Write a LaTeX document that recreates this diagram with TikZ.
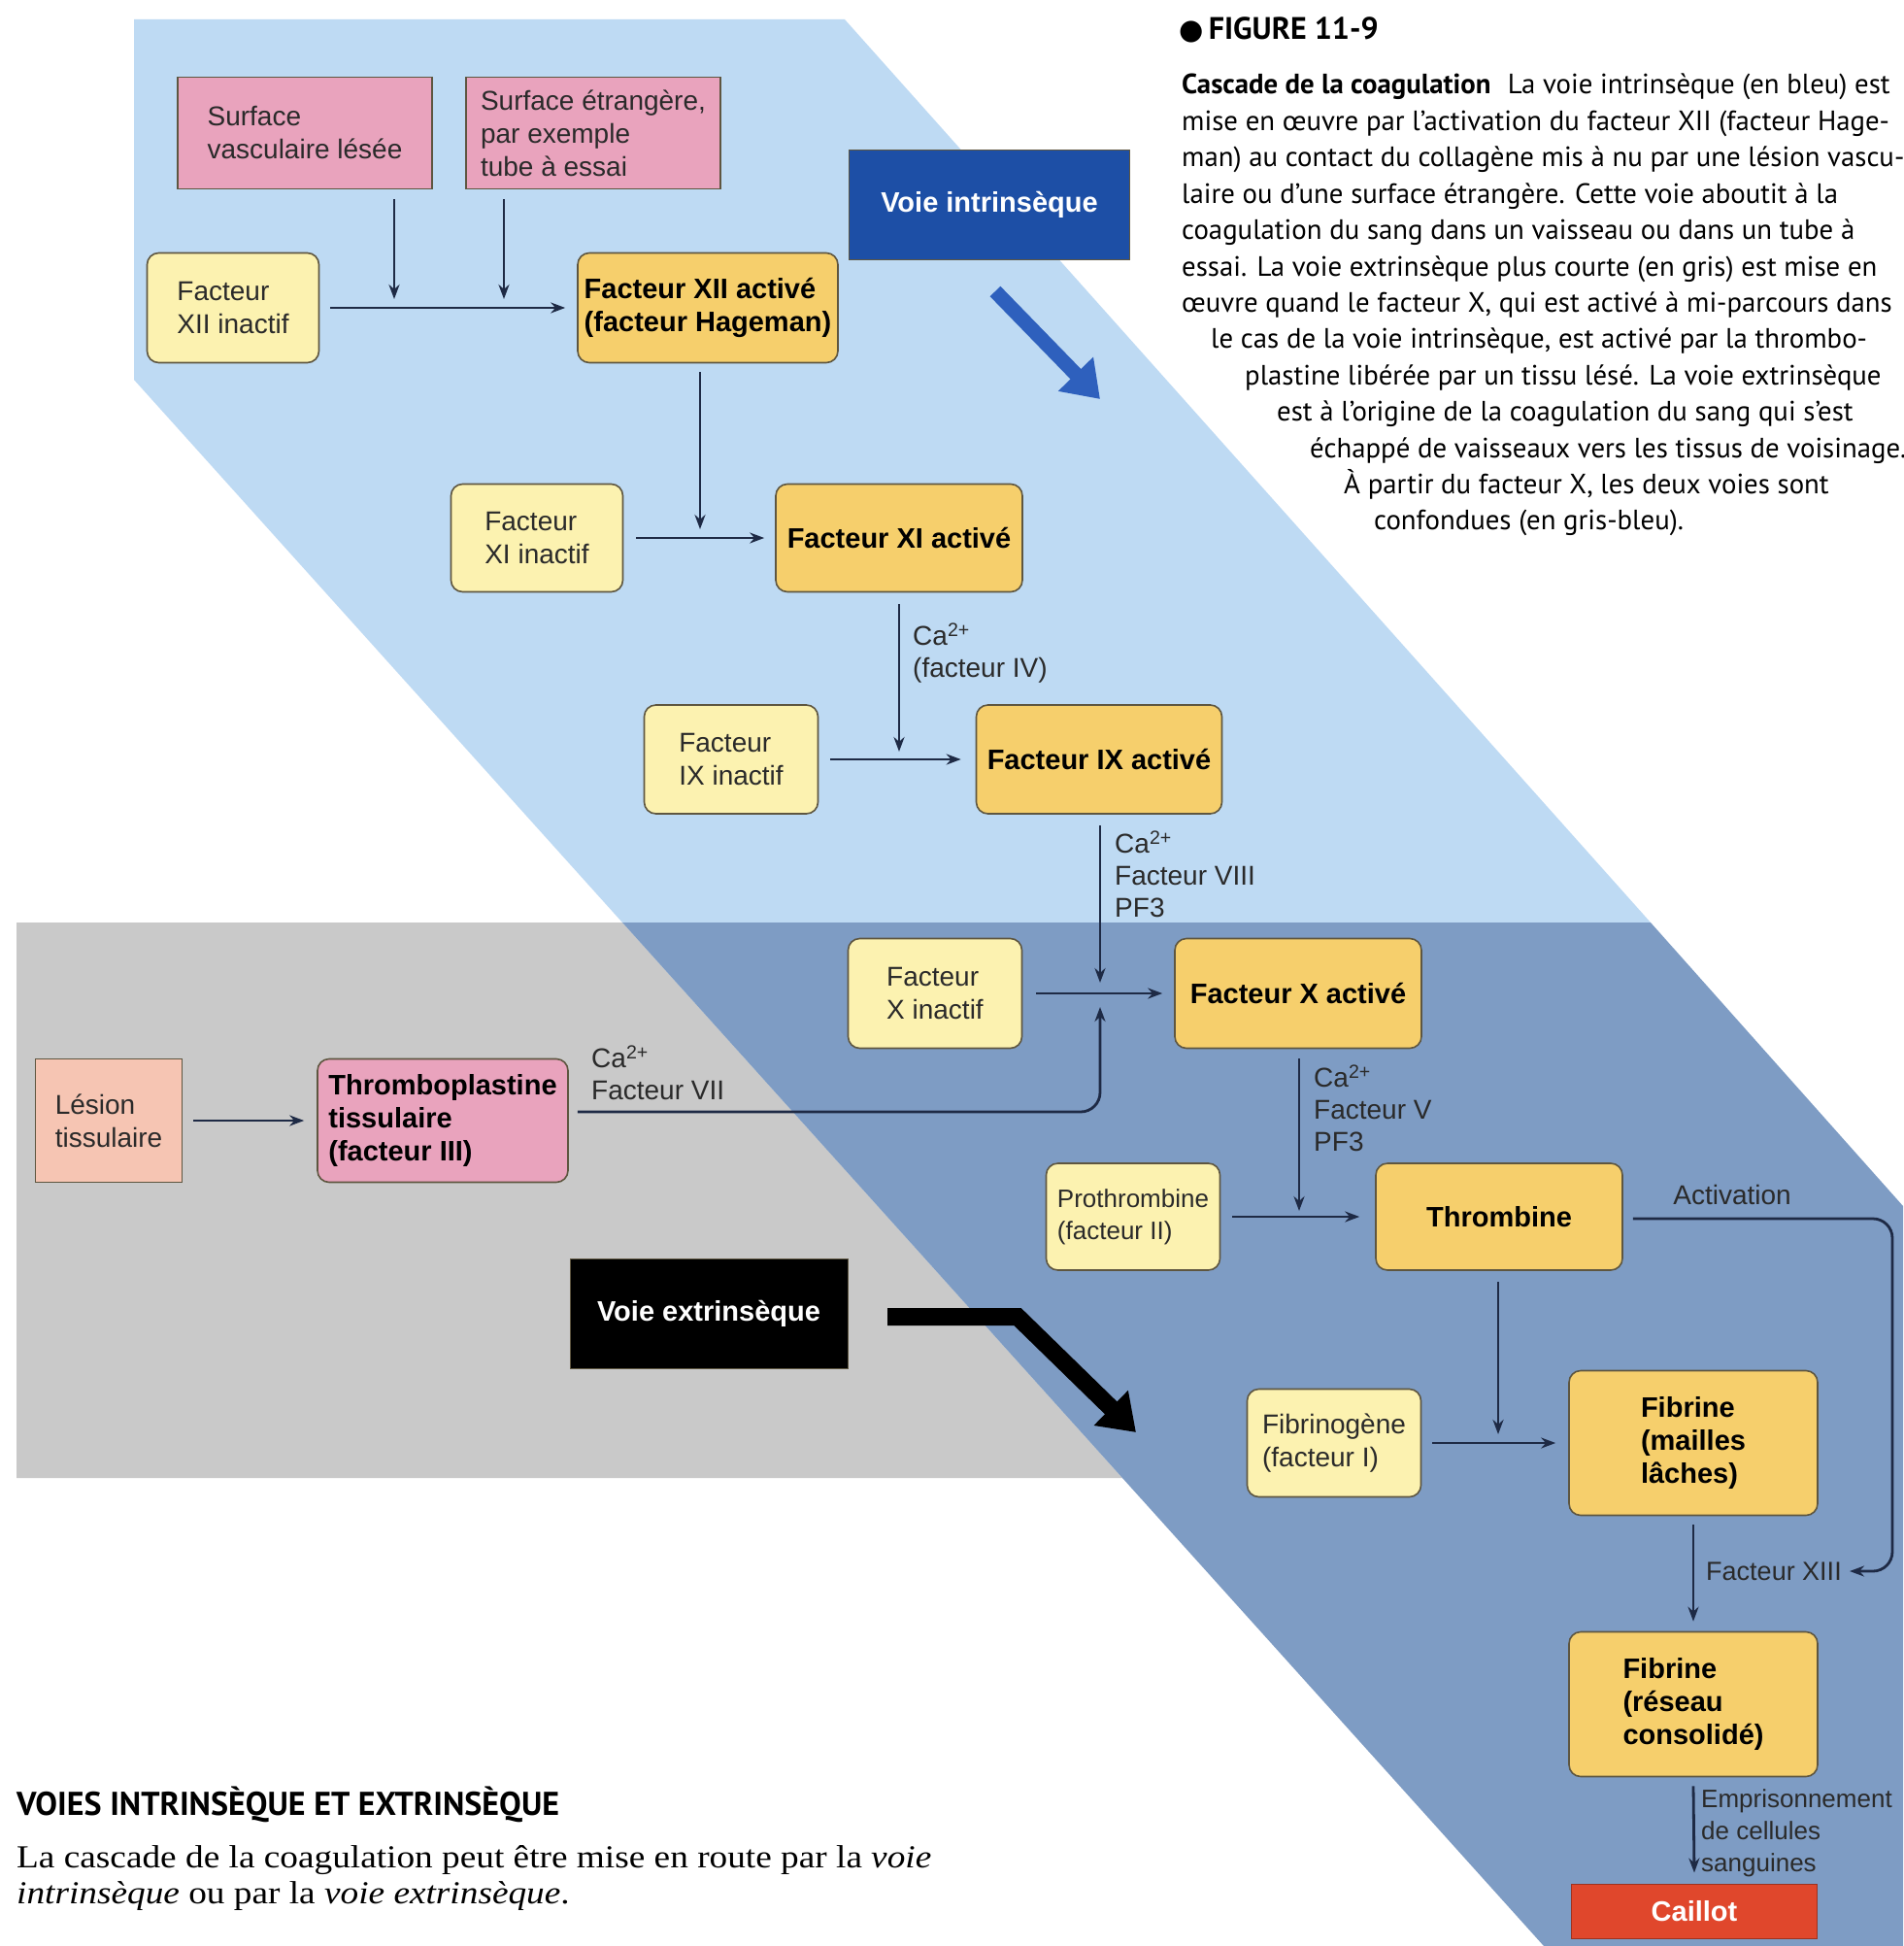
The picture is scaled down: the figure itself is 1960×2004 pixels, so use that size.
\documentclass[tikz,border=0pt]{standalone}
\usepackage{fontspec}
\setmainfont{Liberation Sans}
\newfontfamily\capfont{PT Sans}
\newfontfamily\bodyserif{Liberation Serif}
\newfontfamily\symfont{DejaVu Sans}
\usetikzlibrary{arrows.meta}
\definecolor{bandblue}{HTML}{BEDAF3}
\definecolor{bandgray}{HTML}{C9C9C9}
\definecolor{bandgb}{HTML}{7E9CC4}
\definecolor{inactc}{HTML}{FCF2B0}
\definecolor{actc}{HTML}{F6CF6C}
\definecolor{pinkc}{HTML}{E9A3BD}
\definecolor{lesc}{HTML}{F6C5B3}
\definecolor{boxline}{HTML}{5E5640}
\definecolor{arrc}{HTML}{1E2A45}
\definecolor{vintc}{HTML}{1D4FA6}
\definecolor{blarr}{HTML}{2E60BD}
\definecolor{caillotc}{HTML}{E0472C}
\definecolor{txtc}{HTML}{2A2A2A}
\begin{document}
\begin{tikzpicture}[x=1pt,y=-1pt,
  box/.style={draw=boxline, line width=1.6pt, inner sep=0pt, align=left, text=txtc,
    font=\fontsize{28}{34}\selectfont},
  inact/.style={box, rounded corners=12pt, fill=inactc},
  act/.style={box, rounded corners=12pt, fill=actc, text=black,
    font=\fontsize{29}{34}\selectfont\bfseries},
  pinkbox/.style={box, fill=pinkc},
  darkbox/.style={draw=boxline, line width=1pt, inner sep=0pt, text=white,
    font=\fontsize{29}{34}\selectfont\bfseries},
  arr/.style={draw=arrc, line width=2.8pt, -{Stealth[length=15pt,width=11pt]}},
  lab/.style={inner sep=0pt, align=left, text=txtc, font=\fontsize{28}{33}\selectfont},
  captxt/.style={inner sep=0pt, anchor=base west, text=black, font=\capfont\fontsize{28.8}{30}\selectfont}
]
\useasboundingbox (0,0) rectangle (1960,2004);
\fill[white] (0,0) rectangle (1960,2004);

% ---- background bands ----
\fill[bandblue] (138,20) -- (870,20) -- (1700,950) -- (641,950) -- (138,391) -- cycle;
\fill[bandgray] (17,950) -- (641,950) -- (1156,1522) -- (17,1522) -- cycle;
\fill[bandgb] (641,950) -- (1700,950) -- (1960,1242) -- (1960,2004) -- (1590,2004) -- cycle;

% ---- nodes ----
\node[pinkbox, minimum width=262pt, minimum height=115pt] (surf1) at (314,137) {Surface\\vasculaire lésée};
\node[pinkbox, minimum width=262pt, minimum height=115pt] (surf2) at (611,137) {Surface étrangère,\\par exemple\\tube à essai};
\node[darkbox, fill=vintc, minimum width=289pt, minimum height=113pt] (vint) at (1019,211) {Voie intrinsèque};

\node[inact, minimum width=177pt, minimum height=113pt] (f12i) at (240,317) {Facteur\\XII inactif};
\node[act, minimum width=268pt, minimum height=113pt] (f12a) at (729,317) {Facteur XII activé\\(facteur Hageman)};

\node[inact, minimum width=177pt, minimum height=111pt] (f11i) at (553,554) {Facteur\\XI inactif};
\node[act, minimum width=254pt, minimum height=111pt] (f11a) at (926,554) {Facteur XI activé};

\node[inact, minimum width=179pt, minimum height=112pt] (f9i) at (753,782) {Facteur\\IX inactif};
\node[act, minimum width=253pt, minimum height=112pt] (f9a) at (1132,782) {Facteur IX activé};

\node[inact, minimum width=179pt, minimum height=113pt] (f10i) at (963,1023) {Facteur\\X inactif};
\node[act, minimum width=254pt, minimum height=113pt] (f10a) at (1337,1023) {Facteur X activé};

\node[box, fill=lesc, minimum width=151pt, minimum height=127pt] (les) at (112,1154) {Lésion\\tissulaire};
\node[act, fill=pinkc, minimum width=258pt, minimum height=127pt] (tpl) at (456,1154) {Thromboplastine\\tissulaire\\(facteur III)};

\node[darkbox, fill=black, minimum width=286pt, minimum height=113pt] (vext) at (730,1353) {Voie extrinsèque};

\node[inact, minimum width=179pt, minimum height=110pt, font=\fontsize{26}{33}\selectfont] (proth) at (1167,1253) {Prothrombine\\(facteur II)};
\node[act, minimum width=254pt, minimum height=110pt] (thr) at (1544,1253) {Thrombine};

\node[inact, minimum width=179pt, minimum height=111pt] (fgn) at (1374,1486) {Fibrinogène\\(facteur I)};
\node[act, minimum width=256pt, minimum height=149pt] (fibm) at (1744,1486) {Fibrine\\(mailles\\lâches)};
\node[act, minimum width=256pt, minimum height=149pt] (fibr) at (1744,1755) {Fibrine\\(réseau\\consolidé)};
\node[darkbox, fill=caillotc, draw=caillotc!70!black, minimum width=253pt, minimum height=56pt] (cail) at (1745,1968) {Caillot};

% ---- junction coordinates ----
\coordinate (j1) at (406,308);
\coordinate (j2) at (519,308);
\coordinate (j3) at (721,545);
\coordinate (j4) at (926,774);
\coordinate (j5) at (1133,1012);
\coordinate (j6) at (1133,1037);
\coordinate (j7) at (1338,1247);
\coordinate (j8) at (1543,1477);
\coordinate (j9) at (1905,1618);
\coordinate (c9) at (1949,1618);

% ---- connectors ----
\draw[arr] ([yshift=-10pt]surf1.south -| j1) -- (j1);
\draw[arr] ([yshift=-10pt]surf2.south -| j2) -- (j2);
\draw[arr] ([xshift=11pt]f12i.east) -- ([xshift=-12pt]f12a.west);
\draw[arr] ([yshift=-9pt]f12a.south -| j3) -- (j3);
\draw[arr] ([xshift=13pt]f11i.east) -- ([xshift=-11pt]f11a.west);
\draw[arr] ([yshift=-12pt]f11a.south -| j4) -- (j4);
\draw[arr] ([xshift=12pt]f9i.east) -- ([xshift=-15pt]f9a.west);
\draw[arr] ([yshift=-11pt]f9a.south -| j5) -- (j5);
\draw[arr] ([xshift=14pt]f10i.east) -- ([xshift=-12pt]f10a.west);
\draw[arr] ([xshift=11pt]les.east) -- ([xshift=-13pt]tpl.west);
\draw[arr, rounded corners=20pt] ([xshift=9pt,yshift=9pt]tpl.east) -| (j6);
\draw[arr] ([yshift=-10pt]f10a.south -| j7) -- (j7);
\draw[arr] ([xshift=12pt]proth.east) -- ([xshift=-16pt]thr.west);
\draw[arr, rounded corners=20pt] ([xshift=10pt,yshift=-2pt]thr.east) -| (c9) -- (j9);
\draw[arr] ([yshift=-11pt]thr.south -| j8) -- (j8);
\draw[arr] ([xshift=11pt]fgn.east) -- ([xshift=-13pt]fibm.west);
\draw[arr] ([yshift=-9pt]fibm.south) -- ([yshift=10pt]fibr.north);
\draw[arr] ([yshift=-9pt]fibr.south) -- ([yshift=11pt]cail.north);

% ---- thick pathway arrows ----
\coordinate (ba1) at (1025,300);
\coordinate (ba2) at (1133,411);
\draw[blarr, line width=15pt, -{Triangle[length=36pt,width=48pt]}] (ba1) -- (ba2);
\coordinate (ka1) at (914,1356);
\coordinate (ka2) at (1048,1356);
\coordinate (ka3) at (1170,1475);
\draw[black, line width=18pt, line join=miter, -{Triangle[length=36pt,width=48pt]}] (ka1) -- (ka2) -- (ka3);

% ---- connector labels ----
\node[lab, anchor=west] (l1) at (940,673) {Ca\textsuperscript{2+}\\(facteur IV)};
\node[lab, anchor=west] (l2) at (1148,900) {Ca\textsuperscript{2+}\\Facteur VIII\\PF3};
\node[lab, anchor=west] (l3) at (609,1105) {Ca\textsuperscript{2+}\\Facteur VII};
\node[lab, anchor=west] (l4) at (1353,1141) {Ca\textsuperscript{2+}\\Facteur V\\PF3};
\node[lab] (l5) at (1784,1230) {Activation};
\node[lab, anchor=west, font=\fontsize{27}{33}\selectfont] (l6) at (1757,1618) {Facteur XIII};
\node[lab, anchor=west, font=\fontsize{26}{33}\selectfont] (l7) at (1752,1888) {Emprisonnement\\de cellules\\sanguines};

% ---- caption ----
\node[captxt, font=\capfont\bfseries\fontsize{32}{34}\selectfont] (fig) at (1214,41) {{\symfont\fontsize{29}{30}\selectfont ●}\,FIGURE 11-9};
\node[captxt] (k1) at (1217,97) {\textbf{Cascade de la coagulation}\hspace{0.6em}La voie intrinsèque (en bleu) est};
\node[captxt] (k2) at (1217,134.4) {mise en œuvre par l’activation du facteur XII (facteur Hage-};
\node[captxt] (k3) at (1217,171.8) {man) au contact du collagène mis à nu par une lésion vascu-};
\node[captxt] (k4) at (1217,209.2) {laire ou d’une surface étrangère. Cette voie aboutit à la};
\node[captxt] (k5) at (1217,246.6) {coagulation du sang dans un vaisseau ou dans un tube à};
\node[captxt] (k6) at (1217,284) {essai. La voie extrinsèque plus courte (en gris) est mise en};
\node[captxt] (k7) at (1217,321.4) {œuvre quand le facteur X, qui est activé à mi-parcours dans};
\node[captxt] (k8) at (1247,358.8) {le cas de la voie intrinsèque, est activé par la thrombo-};
\node[captxt] (k9) at (1282,396.2) {plastine libérée par un tissu lésé. La voie extrinsèque};
\node[captxt] (k10) at (1315,433.6) {est à l’origine de la coagulation du sang qui s’est};
\node[captxt] (k11) at (1349,471) {échappé de vaisseaux vers les tissus de voisinage.};
\node[captxt] (k12) at (1384,508.4) {À partir du facteur X, les deux voies sont};
\node[captxt] (k13) at (1415,545.8) {confondues (en gris-bleu).};

% ---- bottom text ----
\node[captxt, font=\capfont\bfseries\fontsize{34}{36}\selectfont] (hd) at (17,1869) {VOIES INTRINSÈQUE ET EXTRINSÈQUE};
\node[captxt, font=\bodyserif\fontsize{33}{36}\selectfont] (b1) at (17,1923) {\scalebox{1.13}[1]{La cascade de la coagulation peut être mise en route par la \textit{voie}}};
\node[captxt, font=\bodyserif\fontsize{33}{36}\selectfont] (b2) at (17,1960) {\scalebox{1.13}[1]{\textit{intrinsèque} ou par la \textit{voie extrinsèque}.}};
\end{tikzpicture}
\end{document}
